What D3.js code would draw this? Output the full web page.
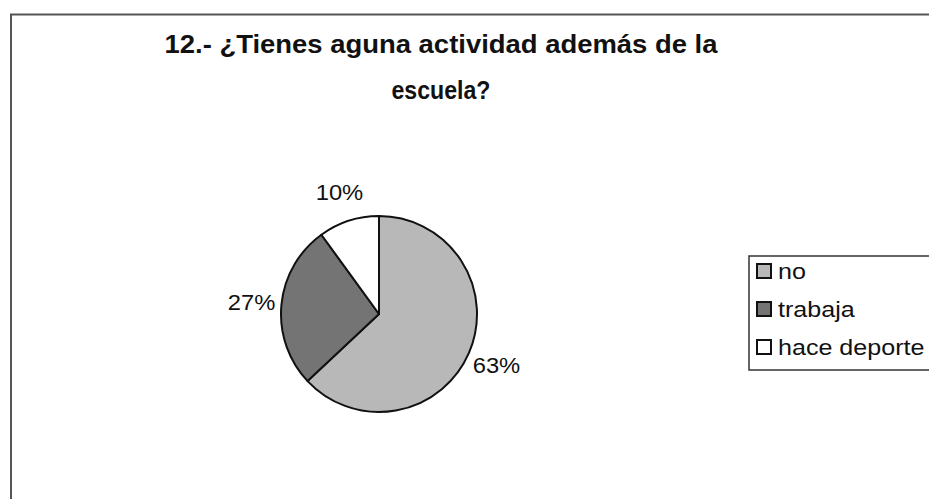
<!DOCTYPE html>
<html><head><meta charset="utf-8">
<script src="https://cdn.jsdelivr.net/npm/d3@7"></script>
<style>body{margin:0;background:#fff}svg{display:block}text{font-family:"Liberation Sans",Arial,sans-serif;fill:#111}</style>
</head><body><svg id="c" width="929" height="499"></svg>
<script>
const categories = ["no", "trabaja", "hace deporte"];
const values = [63, 27, 10];
const labels = ["63%", "27%", "10%"];
const colors = ["#b8b8b8", "#747474", "#ffffff"];
const titleLines = ["12.- ¿Tienes aguna actividad además de la", "escuela?"];

const svg = d3.select("#c");
// frame
svg.append("path").attr("d","M11,499 V14.5 H929").attr("fill","none").attr("stroke","#555").attr("stroke-width",2);

// title
const tw = [553, 99];
const ty = [53, 99];
titleLines.forEach((t,i)=>{
  const el = svg.append("text").attr("x",441).attr("y",ty[i]).attr("text-anchor","middle")
    .attr("font-size",25).attr("font-weight","bold").text(t);
  el.attr("textLength",tw[i]).attr("lengthAdjust","spacingAndGlyphs");
});

// pie
const cx=379, cy=314, r=98;
const pie = d3.pie().sort(null).value(d=>d)(values);
const arc = d3.arc().innerRadius(0).outerRadius(r);
const g = svg.append("g").attr("transform",`translate(${cx},${cy})`);
g.selectAll("path").data(pie).join("path").attr("d",arc)
  .attr("fill",(d,i)=>colors[i]).attr("stroke","#111").attr("stroke-width",2).attr("stroke-linejoin","round");

// labels
const labelArc = d3.arc().innerRadius(r+30).outerRadius(r+30);
g.selectAll("text.lab").data(pie).join("text").attr("class","lab")
  .attr("transform",(d,i)=>{const c=labelArc.centroid(d);return `translate(${c[0]},${c[1]})`;})
  .attr("text-anchor","middle").attr("dy","0.35em").attr("font-size",22)
  .text((d,i)=>labels[i])
  .each(function(){const w=this.getComputedTextLength();d3.select(this).attr("textLength",w*1.08).attr("lengthAdjust","spacingAndGlyphs");});

// legend
svg.append("path").attr("d","M929,256 H749 V370 H929").attr("fill","none").attr("stroke","#333").attr("stroke-width",1.5);
const ly = d3.scalePoint().domain(categories).range([271,347]);
const lg = svg.append("g");
categories.forEach((c,i)=>{
  lg.append("rect").attr("x",757).attr("y",ly(c)-7).attr("width",14).attr("height",14)
    .attr("fill",colors[i]).attr("stroke","#111").attr("stroke-width",2);
  const t = lg.append("text").attr("x",778).attr("y",ly(c)+8).attr("font-size",22).text(c);
  const w = t.node().getComputedTextLength();
  t.attr("textLength",w*1.14).attr("lengthAdjust","spacingAndGlyphs");
});
</script></body></html>
